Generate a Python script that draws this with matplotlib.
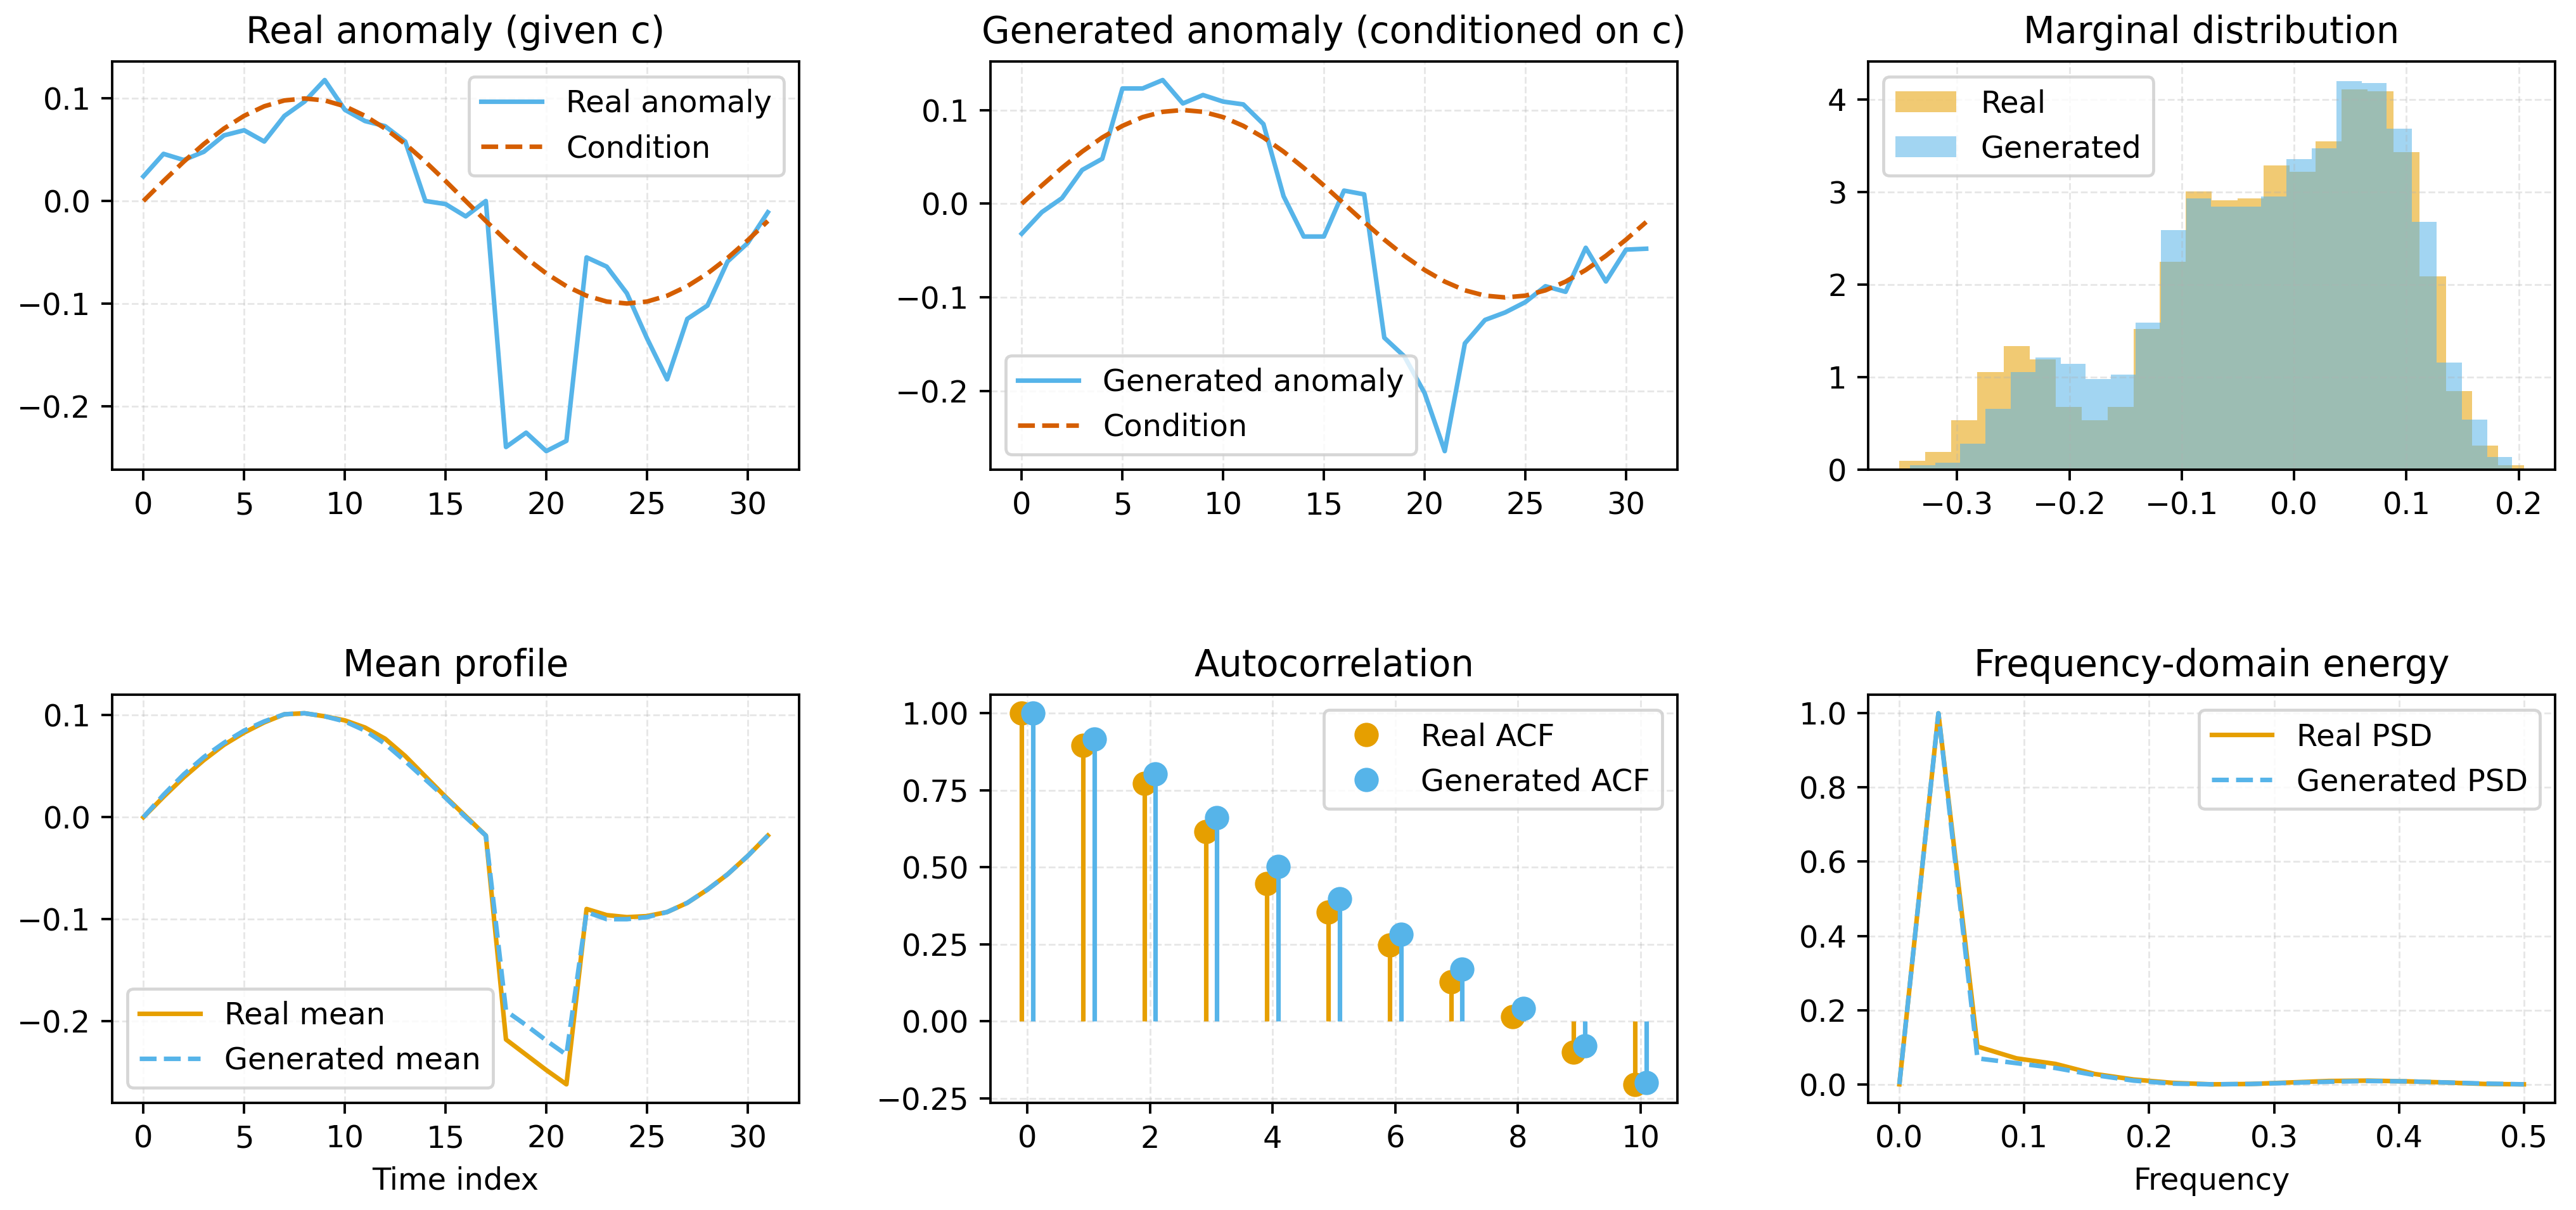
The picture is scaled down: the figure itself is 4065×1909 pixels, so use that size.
import numpy as np
import matplotlib
matplotlib.use("Agg")
import matplotlib.pyplot as plt
from matplotlib.ticker import MultipleLocator

# ---------------- data ----------------
t = list(range(32))
condition = [0.0, 0.0195, 0.0383, 0.0556, 0.0707, 0.0831, 0.0924, 0.0981,
             0.1, 0.0981, 0.0924, 0.0831, 0.0707, 0.0556, 0.0383, 0.0195,
             0.0, -0.0195, -0.0383, -0.0556, -0.0707, -0.0831, -0.0924, -0.0981,
             -0.1, -0.0981, -0.0924, -0.0831, -0.0707, -0.0556, -0.0383, -0.0195]
real_anomaly = [0.024, 0.046, 0.040, 0.048, 0.064, 0.069, 0.058, 0.083,
                0.097, 0.118, 0.089, 0.078, 0.073, 0.058, 0.000, -0.003,
                -0.015, 0.000, -0.240, -0.226, -0.244, -0.234, -0.055, -0.064,
                -0.090, -0.134, -0.174, -0.115, -0.102, -0.059, -0.041, -0.011]
gen_anomaly = [-0.032, -0.009, 0.006, 0.036, 0.048, 0.123, 0.123, 0.132,
               0.107, 0.116, 0.109, 0.106, 0.085, 0.008, -0.035, -0.035,
               0.014, 0.010, -0.143, -0.163, -0.202, -0.264, -0.149, -0.124,
               -0.116, -0.105, -0.088, -0.094, -0.047, -0.083, -0.049, -0.048]

real_hist_range = (-0.3513, 0.2045)
real_density = [0.095, 0.19, 0.537, 1.052, 1.333, 1.193, 0.680, 0.537,
                0.680, 1.519, 2.243, 3.006, 2.909, 2.933, 3.29, 3.22,
                3.547, 4.11, 4.09, 3.43, 2.09, 0.848, 0.257, 0.05]
gen_hist_range = (-0.3417, 0.1940)
gen_density = [0.045, 0.073, 0.283, 0.658, 1.052, 1.215, 1.145, 0.98,
               1.027, 1.587, 2.587, 2.933, 2.842, 2.842, 2.95, 3.357,
               3.47, 4.20, 4.175, 3.684, 2.68, 1.155, 0.541, 0.14]

real_mean = [0.000, 0.020, 0.039, 0.056, 0.071, 0.083, 0.093, 0.101,
             0.102, 0.099, 0.095, 0.088, 0.077, 0.060, 0.040, 0.020,
             0.001, -0.018, -0.218, -0.233, -0.248, -0.262, -0.090, -0.096,
             -0.098, -0.097, -0.093, -0.084, -0.071, -0.056, -0.038, -0.018]
gen_mean = [0.000, 0.022, 0.042, 0.059, 0.073, 0.085, 0.094, 0.101,
            0.102, 0.099, 0.094, 0.085, 0.072, 0.055, 0.037, 0.019,
            0.000, -0.018, -0.190, -0.204, -0.219, -0.233, -0.093, -0.100,
            -0.100, -0.098, -0.093, -0.084, -0.071, -0.056, -0.038, -0.018]

lags = list(range(11))
real_acf = [1.0, 0.895, 0.773, 0.616, 0.447, 0.355, 0.247, 0.127, 0.014, -0.100, -0.205]
gen_acf = [1.0, 0.916, 0.802, 0.660, 0.502, 0.397, 0.283, 0.169, 0.042, -0.081, -0.199]

freqs = [k / 32 for k in range(17)]
real_psd = [0.0, 1.0, 0.102, 0.070, 0.055, 0.028, 0.013, 0.004, 0.000,
            0.001, 0.005, 0.009, 0.010, 0.008, 0.005, 0.001, 0.000]
gen_psd = [0.0, 1.0, 0.070, 0.057, 0.044, 0.025, 0.010, 0.002, 0.000,
           0.001, 0.004, 0.007, 0.009, 0.008, 0.005, 0.002, 0.000]

# ---------------- style ----------------
BLUE = "#56B4E9"
ORANGE = "#E69F00"
VERM = "#D55E00"
plt.rcParams.update({"font.family": "DejaVu Sans", "font.size": 10})

DPI = 345
W, H = 4065, 1909
fig = plt.figure(figsize=(W / DPI, H / DPI), dpi=DPI)
col_left = [177, 1563, 2948]
col_w = 1084
row_top = [97, 1096]
row_h = 644

axes = []
for r in range(2):
    for c in range(3):
        l = col_left[c] / W
        b = 1 - (row_top[r] + row_h) / H
        axes.append(fig.add_axes([l, b, col_w / W, row_h / H]))

def style(ax):
    ax.grid(True, linestyle="--", linewidth=0.6, alpha=0.3)

lw = 1.5

# 1. Real anomaly
ax = axes[0]
ax.plot(t, real_anomaly, color=BLUE, lw=lw, label="Real anomaly")
ax.plot(t, condition, color=VERM, lw=lw, ls="--", label="Condition")
ax.set_title("Real anomaly (given c)")
ax.legend(loc="upper right")
style(ax)

# 2. Generated anomaly
ax = axes[1]
ax.plot(t, gen_anomaly, color=BLUE, lw=lw, label="Generated anomaly")
ax.plot(t, condition, color=VERM, lw=lw, ls="--", label="Condition")
ax.set_title("Generated anomaly (conditioned on c)")
ax.legend(loc="lower left")
style(ax)

# 3. Marginal distribution
ax = axes[2]
re = np.linspace(real_hist_range[0], real_hist_range[1], len(real_density) + 1)
ge = np.linspace(gen_hist_range[0], gen_hist_range[1], len(gen_density) + 1)
ax.hist(re[:-1], bins=re, weights=real_density, color=ORANGE, alpha=0.55, label="Real")
ax.hist(ge[:-1], bins=ge, weights=gen_density, color=BLUE, alpha=0.55, label="Generated")
ax.set_title("Marginal distribution")
ax.legend(loc="upper left")
style(ax)

# 4. Mean profile
ax = axes[3]
ax.plot(t, real_mean, color=ORANGE, lw=lw, label="Real mean")
ax.plot(t, gen_mean, color=BLUE, lw=lw, ls="--", label="Generated mean")
ax.set_title("Mean profile")
ax.set_xlabel("Time index")
ax.legend(loc="lower left")
style(ax)

# 5. Autocorrelation
ax = axes[4]
off = 0.09
xr = np.array(lags) - off
xg = np.array(lags) + off
ax.vlines(xr, 0, real_acf, color=ORANGE, lw=1.5)
ax.plot(xr, real_acf, "o", color=ORANGE, ms=7, label="Real ACF")
ax.vlines(xg, 0, gen_acf, color=BLUE, lw=1.5)
ax.plot(xg, gen_acf, "o", color=BLUE, ms=7, label="Generated ACF")
ax.set_xticks([0, 2, 4, 6, 8, 10])
ax.yaxis.set_major_locator(MultipleLocator(0.25))
ax.set_title("Autocorrelation")
ax.legend(loc="upper right")
style(ax)

# 6. PSD
ax = axes[5]
ax.plot(freqs, real_psd, color=ORANGE, lw=lw, label="Real PSD")
ax.plot(freqs, gen_psd, color=BLUE, lw=lw, ls="--", label="Generated PSD")
ax.set_title("Frequency-domain energy")
ax.set_xlabel("Frequency")
ax.legend(loc="upper right")
style(ax)

fig.savefig("out.png", dpi=DPI)
